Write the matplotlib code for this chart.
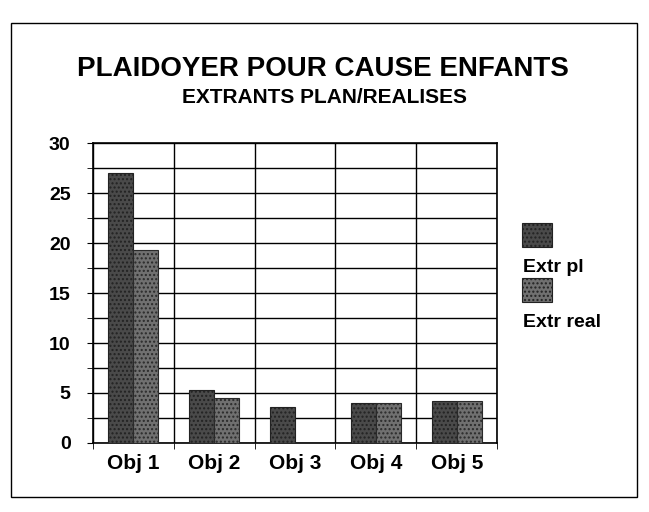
import numpy as np
import matplotlib.pyplot as plt
from matplotlib.patches import Rectangle

# data
categories = ['Obj 1', 'Obj 2', 'Obj 3', 'Obj 4', 'Obj 5']
extr_pl = [27, 5.3, 3.6, 4, 4.2]
extr_real = [19.3, 4.5, 0, 4, 4.2]
series_names = ['Extr pl', 'Extr real']

plt.rcParams['font.family'] = ['Liberation Sans', 'DejaVu Sans']
plt.rcParams['hatch.linewidth'] = 1.0

fig = plt.figure(figsize=(6.49, 5.12), dpi=100)
fig.patch.set_facecolor('white')

# outer frame of the chart
fig.patches.append(Rectangle((0.017, 0.03), 0.965, 0.925, transform=fig.transFigure,
                             fill=False, edgecolor='black', linewidth=1.0))

ax = fig.add_axes([0.143, 0.135, 0.623, 0.585])
x = np.arange(len(categories))
w = 0.31
ax.bar(x - w / 2, extr_pl, w, color='#4a4a4a', edgecolor='#222222', hatch='....', linewidth=0.8, zorder=3)
ax.bar(x + w / 2, extr_real, w, color='#707070', edgecolor='#2a2a2a', hatch='....', linewidth=0.8, zorder=3)

ax.set_xlim(-0.5, len(categories) - 0.5)
ax.set_ylim(0, 30)
ax.set_yticks(np.arange(0, 31, 5))
ax.set_yticks(np.arange(0, 31, 2.5), minor=True)
ax.set_xticks(x)
ax.set_xticks(np.arange(-0.5, len(categories), 1), minor=True)
ax.set_xticklabels(categories, fontsize=15, fontweight='bold')
ax.set_yticklabels([str(v) for v in range(0, 31, 5)], fontsize=14, fontweight='bold')
ax.tick_params(axis='x', which='major', length=0, pad=8)
ax.tick_params(axis='x', which='minor', length=4, direction='out')
ax.tick_params(axis='y', which='both', length=4, direction='out', pad=12)
ax.grid(True, which='both', axis='y', color='black', linewidth=1.0, zorder=0)
ax.grid(True, which='minor', axis='x', color='black', linewidth=1.0, zorder=0)
ax.grid(False, which='major', axis='x')
for s in ax.spines.values():
    s.set_linewidth(1.2)

fig.text(0.497, 0.866, 'PLAIDOYER POUR CAUSE ENFANTS', ha='center', va='center',
         fontsize=20, fontweight='bold')
fig.text(0.5, 0.81, 'EXTRANTS PLAN/REALISES', ha='center', va='center',
         fontsize=15, fontweight='bold')

# legend: swatch above each label
for i, (name, col) in enumerate(zip(series_names, ['#4a4a4a', '#707070'])):
    y0 = 0.518 - i * 0.107
    fig.patches.append(Rectangle((0.804, y0), 0.046, 0.047, transform=fig.transFigure,
                                 facecolor=col, edgecolor='#222222', hatch='....', linewidth=0.8))
    fig.text(0.806, y0 - 0.04, name, ha='left', va='center', fontsize=14, fontweight='bold')

fig.savefig('out.png', dpi=100)
